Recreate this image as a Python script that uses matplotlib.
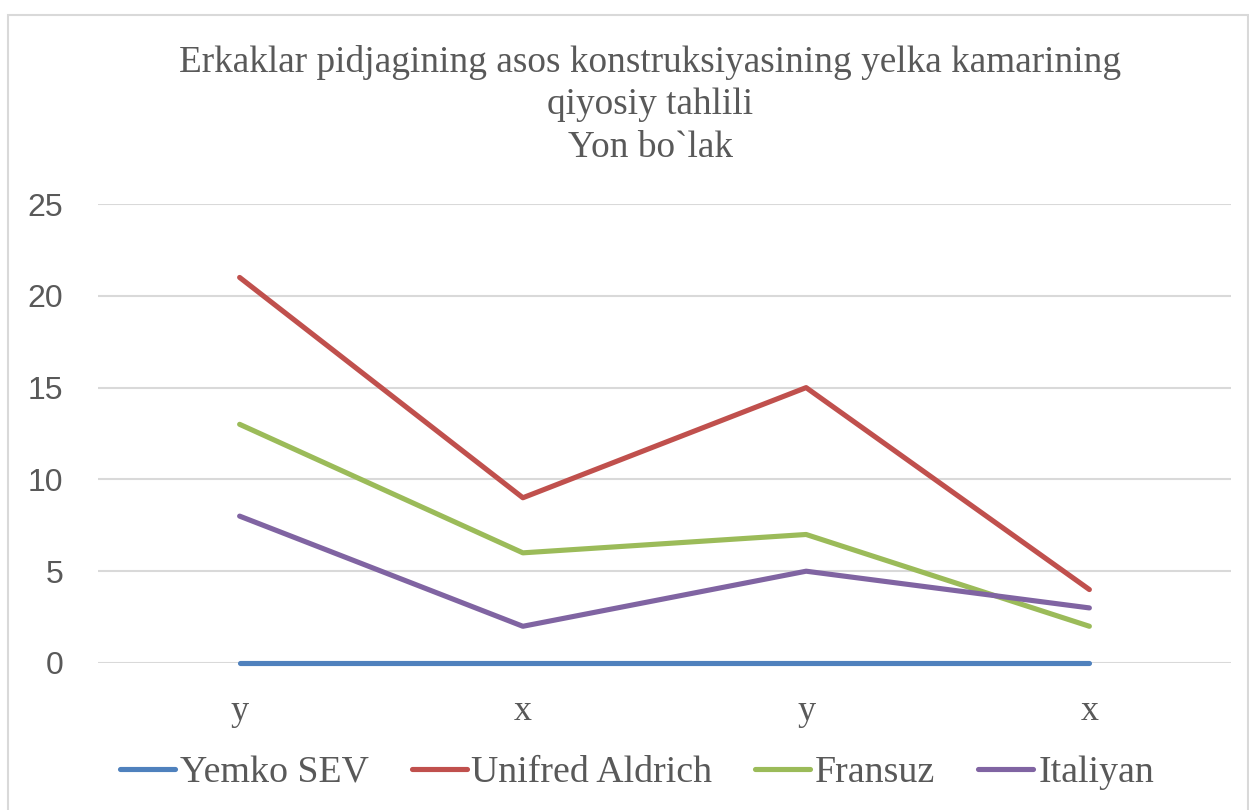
import matplotlib.pyplot as plt
from matplotlib.patches import Rectangle

categories = ['y', 'x', 'y', 'x']
series_names = ['Yemko SEV', 'Unifred Aldrich', 'Fransuz', 'Italiyan']
yemko = [0, 0, 0, 0]
unifred = [21, 9, 15, 4]
fransuz = [13, 6, 7, 2]
italiyan = [8, 2, 5, 3]
colors = ['#4F81BD', '#C0504D', '#9BBB59', '#8064A2']

title = ('Erkaklar pidjagining asos konstruksiyasining yelka kamarining\n'
         'qiyosiy tahlili\nYon bo`lak')

txt = '#595959'
serif = 'Liberation Serif'

fig = plt.figure(figsize=(12.49, 8.10), dpi=100)
# chart frame
fig.patches.append(Rectangle((8 / 1249, -0.01), 1240 / 1249, 1 - 15 / 810 + 0.01,
                             transform=fig.transFigure, fill=False,
                             edgecolor='#D9D9D9', linewidth=1.5))

ax = fig.add_axes([98 / 1249, 147 / 810, 1133 / 1249, 459 / 810])
xs = range(len(categories))
for vals, name, c in zip([yemko, unifred, fransuz, italiyan], series_names, colors):
    ax.plot(xs, vals, color=c, linewidth=3.7, solid_capstyle='round',
            solid_joinstyle='round', label=name, zorder=3, clip_on=False)

ax.set_xlim(-0.5, len(categories) - 0.5)
ax.set_ylim(0, 25)
ax.set_yticks([0, 5, 10, 15, 20, 25])
ax.yaxis.grid(True, color='#D9D9D9', linewidth=1.5)
ax.set_axisbelow(True)
for s in ax.spines.values():
    s.set_visible(False)
ax.tick_params(length=0)
ax.set_xticks(list(xs))
ax.set_xticklabels(categories, fontfamily=serif, fontsize=26, color=txt)
ax.tick_params(axis='x', pad=23)
ax.tick_params(axis='y', pad=25)
for lbl in ax.get_yticklabels():
    lbl.set_fontfamily('Liberation Sans')
    lbl.set_fontsize(23)
    lbl.set_color(txt)

fig.text(650 / 1249, 1 - 45 / 810, title, ha='center', va='top', fontfamily=serif,
         fontsize=26.8, color=txt, linespacing=1.3)

leg = fig.legend(loc='center', bbox_to_anchor=(637 / 1249, 1 - 773 / 810), ncol=4,
                 frameon=False, prop={'family': serif, 'size': 27.3},
                 handlelength=1.45, handletextpad=0.13, columnspacing=1.13)
for t in leg.get_texts():
    t.set_color(txt)

fig.savefig('out.png', dpi=100)
